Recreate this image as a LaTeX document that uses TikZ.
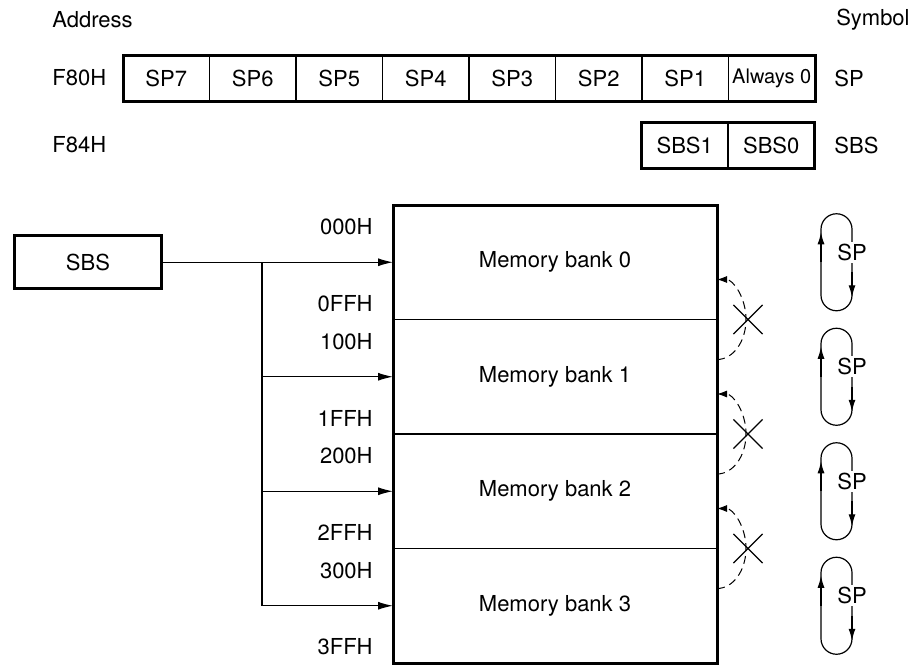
\documentclass[tikz,border=0pt]{standalone}
\usepackage{fontspec}
\setmainfont{TeX Gyre Heros}
\usetikzlibrary{arrows.meta,positioning,shapes.misc}
\tikzset{
  cell/.style={draw=black, line width=0.6pt, minimum width=43.25pt, minimum height=23pt, inner sep=0pt, outer sep=0pt, align=center},
  bank/.style={draw=black, line width=0.6pt, minimum width=162pt, minimum height=57.25pt, inner sep=0pt, outer sep=0pt},
  heavy/.style={line width=1.5pt},
  txt/.style={inner sep=0pt},
  flow/.style={-{Latex[length=7.5pt,width=4pt]}, line width=0.6pt, draw=black},
  turn/.style={-{Latex[length=6pt,width=3.5pt]}, line width=0.6pt},
  wrap/.style={dash pattern=on 4pt off 2.5pt, -{Latex[length=5pt,width=3.5pt]}, line width=0.5pt},
  nogo/.style={draw, cross out, line width=0.6pt, minimum size=14pt, inner sep=0pt}
}
\begin{document}
\begin{tikzpicture}[x=0.5pt, y=-0.5pt, font=\fontsize{11}{13}\selectfont]
  \useasboundingbox (0,0) rectangle (911,665);

  \node[txt, anchor=west] (addr) at (52,20) {Address};
  \node[txt, anchor=east] (sym) at (910,20) {Symbol};

  % SP register
  \node[txt, anchor=west] (f80) at (52,78) {F80H};
  \node[cell] (sp7) at (166.25,78) {SP7};
  \foreach \i [evaluate=\i as \j using int(\i+1)] in {6,...,1}
    \node[cell, right=0pt of sp\j] (sp\i) {SP\i};
  \node[cell, right=0pt of sp1, font=\fontsize{10}{12}\selectfont] (sp0) {Always 0};
  \draw[heavy] (sp7.north west) rectangle (sp0.south east);
  \node[txt, anchor=west] (spsym) at (834,78) {SP};

  % SBS register
  \node[txt, anchor=west] (f84) at (52,145) {F84H};
  \node[cell] (sbs1) at (684.75,145) {SBS1};
  \node[cell, right=0pt of sbs1] (sbs0) {SBS0};
  \draw[heavy] (sbs1.north west) rectangle (sbs0.south east);
  \node[txt, anchor=west] (sbssym) at (834,145) {SBS};

  % memory banks
  \node[draw, heavy, minimum width=73.5pt, minimum height=26.5pt] (sbs) at (88,262.25) {SBS};
  \node[bank] (bank0) at (555,262.25) {Memory bank 0};
  \foreach \i/\j in {1/0,2/1,3/2}
    \node[bank, below=0pt of bank\j] (bank\i) {Memory bank \i};
  \draw[heavy] (bank0.north west) rectangle (bank3.south east);

  \foreach \i/\lo/\hi in {0/000H/0FFH,1/100H/1FFH,2/200H/2FFH,3/300H/3FFH} {
    \node[txt, anchor=east] (lo\i) at ([xshift=-10pt,yshift=-11pt]bank\i.north west) {\lo};
    \node[txt, anchor=east] (hi\i) at ([xshift=-10pt,yshift=8pt]bank\i.south west) {\hi};
  }

  \coordinate (bus) at (262,262.25);
  \draw[flow] (sbs.east) -- (bank0.west);
  \foreach \i in {1,2,3}
    \draw[flow] (bus) |- (bank\i.west);

  % no wrap between banks
  \foreach \i in {0,1,2} {
    \draw[wrap] ([yshift=-20pt]bank\i.south east) arc[start angle=90, end angle=-90, x radius=29, y radius=40];
    \node[nogo] (x\i) at ([xshift=15.5pt]bank\i.south east) {};
  }

  % SP loops
  \foreach \c in {262.25,376.75,491.25,605.75} {
    \draw[line width=0.6pt] (852,\c-33) arc[start angle=0, end angle=-180, radius=15.5]
      -- (821,\c+33) arc[start angle=180, end angle=0, radius=15.5] -- cycle;
    \draw[turn] (821,\c) -- (821,\c-30);
    \draw[turn] (852,\c+10) -- (852,\c+35);
    \node[fill=white, inner sep=1pt] at (852,\c-10) {SP};
  }
\end{tikzpicture}
\end{document}
